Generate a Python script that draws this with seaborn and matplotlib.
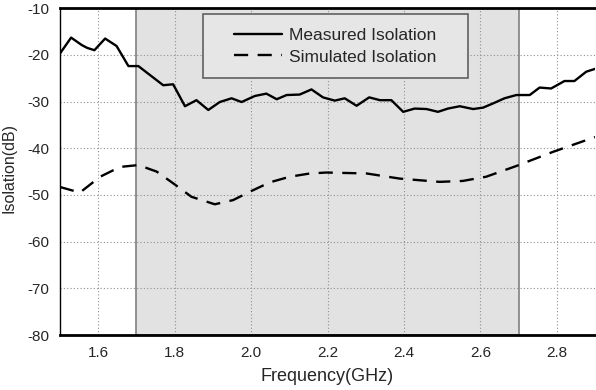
import pandas as pd
import matplotlib.pyplot as plt
from matplotlib.patches import Rectangle
import seaborn as sns

# Datos
freq_med = [1.500, 1.529, 1.557, 1.571, 1.590, 1.618, 1.648, 1.679, 1.705, 1.770,
            1.796, 1.827, 1.857, 1.888, 1.918, 1.949, 1.975, 2.010, 2.040, 2.067,
            2.093, 2.127, 2.158, 2.188, 2.219, 2.245, 2.276, 2.309, 2.337, 2.367,
            2.398, 2.428, 2.459, 2.489, 2.515, 2.546, 2.581, 2.607, 2.633, 2.663,
            2.694, 2.729, 2.755, 2.785, 2.820, 2.846, 2.877, 2.900]
iso_med = [-19.7, -16.3, -17.9, -18.5, -19.0, -16.5, -18.1, -22.4, -22.4, -26.5,
           -26.3, -31.0, -29.7, -31.8, -30.1, -29.3, -30.1, -28.8, -28.3, -29.5,
           -28.6, -28.5, -27.4, -29.1, -29.8, -29.3, -30.9, -29.1, -29.7, -29.7,
           -32.2, -31.5, -31.6, -32.2, -31.5, -31.0, -31.6, -31.3, -30.4, -29.3,
           -28.6, -28.6, -27.0, -27.2, -25.6, -25.6, -23.6, -23.0]

freq_sim = [1.500, 1.552, 1.605, 1.657, 1.705, 1.753, 1.796, 1.844, 1.905, 1.953,
            1.997, 2.049, 2.101, 2.154, 2.197, 2.302, 2.389, 2.493, 2.554, 2.615,
            2.694, 2.789, 2.900]
iso_sim = [-48.3, -49.5, -46.1, -44.0, -43.6, -45.0, -47.5, -50.4, -52.0, -51.1,
           -49.3, -47.3, -46.1, -45.4, -45.2, -45.4, -46.5, -47.2, -47.0, -46.1,
           -43.8, -40.8, -37.6]

banda = (1.7, 2.7)
xticks = [1.6, 1.8, 2.0, 2.2, 2.4, 2.6, 2.8]
yticks = [-80, -70, -60, -50, -40, -30, -20, -10]

df_med = pd.DataFrame({'f': freq_med, 'iso': iso_med})
df_sim = pd.DataFrame({'f': freq_sim, 'iso': iso_sim})

sns.set_style("white")
plt.rcParams['font.family'] = ['Liberation Sans', 'DejaVu Sans']
plt.rcParams['axes.unicode_minus'] = False

fig = plt.figure(figsize=(5.96, 3.9), dpi=100)
ax = fig.add_axes([0.1007, 0.141, 0.8977, 0.838])

# banda sombreada
ax.axvspan(banda[0], banda[1], facecolor='#e2e2e2', edgecolor='#808080', lw=1.2, zorder=0)
ax.grid(True, linestyle=(0, (1, 2)), color='#909090', lw=0.8)
ax.set_axisbelow(True)

sns.lineplot(data=df_med, x='f', y='iso', ax=ax, color='black', lw=1.7,
             label='Measured Isolation', zorder=3)
sns.lineplot(data=df_sim, x='f', y='iso', ax=ax, color='black', lw=1.7,
             label='Simulated Isolation', zorder=3)
ax.lines[-1].set_dashes((6, 4))

ax.set_xlim(1.5, 2.9)
ax.set_ylim(-80, -10)
ax.set_xticks(xticks)
ax.set_yticks(yticks)
ax.set_xticklabels([f"{t:.1f}" for t in xticks])
ax.tick_params(labelsize=11, length=0, pad=8)
ax.set_xlabel('Frequency(GHz)', fontsize=13, labelpad=6)
ax.set_ylabel('Isolation(dB)', fontsize=11.5)
ax.yaxis.set_label_coords(-0.082, 0.51)

for s in ['top', 'bottom']:
    ax.spines[s].set_linewidth(2)
    ax.spines[s].set_color('black')
ax.spines['left'].set_linewidth(1)
ax.spines['left'].set_color('black')
ax.spines['right'].set_visible(False)

# caja de la leyenda
ax.add_patch(Rectangle((0.267, 0.786), 0.496, 0.196, transform=ax.transAxes,
                       facecolor='#e6e6e6', edgecolor='#606060', lw=1.2, zorder=4))
leg = ax.legend(loc='center', bbox_to_anchor=(0.515, 0.884), fontsize=12.5,
                frameon=False, handlelength=2.76, handletextpad=0.4,
                labelspacing=0.38, borderpad=0, borderaxespad=0)
leg.set_zorder(5)
for h in leg.get_lines():
    h.set_linewidth(1.7)

fig.savefig('out.png', dpi=100)
